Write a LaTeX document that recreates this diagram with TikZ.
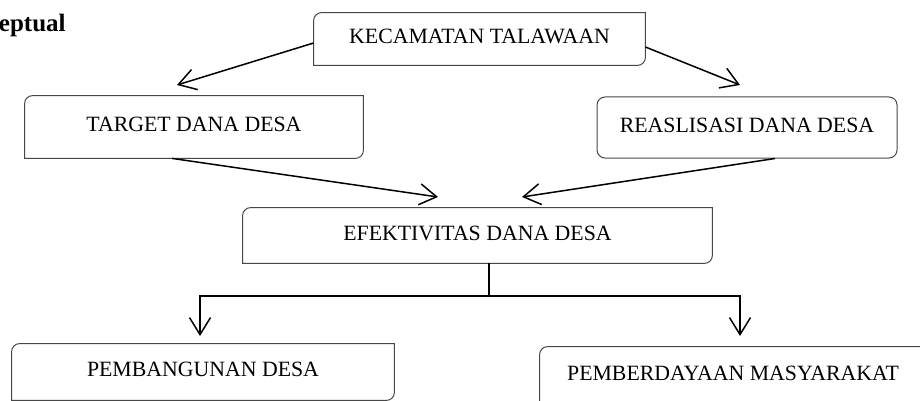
\documentclass[tikz,border=0pt]{standalone}
\usepackage{fontspec}
\setmainfont{Liberation Serif}
\usetikzlibrary{arrows.meta}
\newcommand\diagTLBR[1]{%
  \draw[border] ([yshift=-4pt]#1.north west) arc[start angle=180,end angle=90,radius=4pt]
    -- (#1.north east) -- ([yshift=4pt]#1.south east) arc[start angle=0,end angle=-90,radius=4pt]
    -- (#1.south west) -- cycle;}
\begin{document}
\begin{tikzpicture}[x=0.5pt,y=-0.5pt,
  border/.style={draw=black!72,line width=0.5pt},
  boxtext/.style={inner sep=0pt,text depth=2.5pt,font=\fontsize{10.9}{12}\selectfont},
  conn/.style={line width=0.75pt,-{Straight Barb[length=8.5pt,width=10.5pt,line width=0.75pt]}},
  plain/.style={line width=0.75pt}]
\useasboundingbox (0,0) rectangle (920,401);
\begin{scope}
\clip (0,0) rectangle (920,401);
\fill[white] (0,0) rectangle (920,401);
\node[anchor=base east,inner sep=0pt,font=\fontsize{12.5}{14}\selectfont\bfseries] (title) at (66,32) {eptual};

\node[boxtext,minimum width=165.5pt,minimum height=26pt] (kec) at (479.5,39) {KECAMATAN TALAWAAN};
\node[boxtext,minimum width=169pt,minimum height=31pt] (target) at (194,127) {TARGET DANA DESA};
\node[boxtext,minimum width=150pt,minimum height=30.5pt,border,rounded corners=4pt] (reas) at (747,127.5) {REASLISASI DANA DESA};
\node[boxtext,minimum width=234.5pt,minimum height=27.5pt] (efek) at (477.5,235.5) {EFEKTIVITAS DANA DESA};
\node[boxtext,minimum width=191pt,minimum height=28pt] (pemb) at (203,372) {PEMBANGUNAN DESA};
\node[boxtext,minimum width=193pt,minimum height=29pt] (pemd) at (733,376) {PEMBERDAYAAN MASYARAKAT};

\diagTLBR{kec}
\diagTLBR{target}
\diagTLBR{efek}
\diagTLBR{pemb}
\diagTLBR{pemd}

\coordinate (t1) at (177,85);
\coordinate (t2) at (740,85);
\coordinate (t3) at (438,197);
\coordinate (t4) at (522,197);
\coordinate (j) at (489,296);
\coordinate (t5) at (200,336);
\coordinate (t6) at (740,336);

\draw[conn] ([yshift=-2pt]kec.west) -- (t1);
\draw[conn] ([yshift=-4pt]kec.east) -- (t2);
\draw[conn] ([xshift=-11pt]target.south) -- (t3);
\draw[conn] ([xshift=14pt]reas.south) -- (t4);
\draw[plain] ([xshift=5.75pt]efek.south) -- (j);
\draw[conn] (j) -| (t5);
\draw[conn] (j) -| (t6);
\end{scope}
\end{tikzpicture}
\end{document}
